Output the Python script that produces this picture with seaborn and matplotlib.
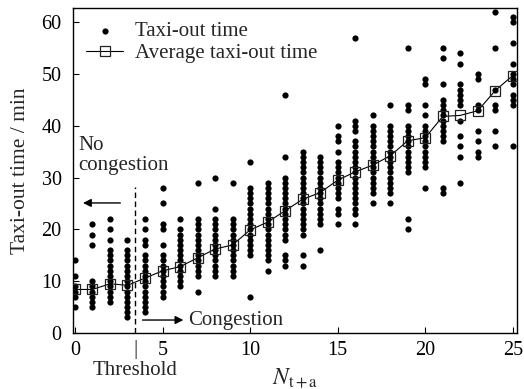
import numpy as np
import pandas as pd
import matplotlib
matplotlib.use("Agg")
import matplotlib.pyplot as plt
import seaborn as sns

# ---- data ----
n_values = list(range(26))
taxi_out_by_n = [
    [14, 11, 9, 8, 7, 5],
    [21, 19, 17, 10, 9, 8, 7, 6, 5],
    [22, 20, 18, 16, 15, 14, 13, 12, 11, 10, 9, 8, 7, 6],
    [18, 16, 15, 14, 13, 12, 11, 10, 9, 8, 7, 6, 5, 4, 3],
    [22, 20, 18, 17, 15, 14, 13, 12, 11, 10, 9, 8, 7, 6, 5, 4],
    [28, 25, 21, 20, 17, 15, 14, 13, 12, 11, 10, 9, 8, 7],
    [22, 20, 19, 18, 17, 16, 15, 14, 13, 12, 11, 10, 9],
    [29, 22, 21, 20, 19, 18, 17, 16, 15, 14, 13, 12, 11, 8],
    [30, 24, 22, 21, 20, 19, 18, 17, 16, 15, 14, 13, 12, 11],
    [29, 22, 21, 20, 19, 18, 17, 16, 15, 14, 13, 12, 11],
    [33, 28, 27, 26, 25, 24, 23, 22, 21, 20, 19, 18, 17, 16, 15, 7],
    [29, 28, 27, 26, 25, 24, 23, 22, 21, 20, 19, 18, 17, 16, 15, 14, 12],
    [46, 34, 30, 29, 28, 27, 26, 25, 24, 23, 22, 21, 20, 19, 18, 15, 14, 13],
    [35, 34, 33, 32, 31, 30, 29, 28, 27, 26, 25, 24, 23, 22, 21, 20, 19, 15, 13],
    [34, 33, 32, 31, 30, 29, 28, 27, 26, 25, 24, 23, 22, 21, 16],
    [40, 38, 37, 35, 33, 32, 31, 30, 29, 28, 27, 26, 24, 23, 21],
    [57, 41, 40, 39, 37, 36, 35, 34, 33, 32, 31, 30, 29, 28, 27, 26, 25, 24, 23, 21],
    [42, 40, 39, 38, 37, 36, 35, 34, 33, 32, 31, 30, 29, 28, 27, 25],
    [44, 40, 39, 38, 37, 36, 35, 34, 33, 32, 31, 30, 29, 28, 27, 25],
    [55, 44, 43, 40, 39, 38, 37, 36, 35, 34, 33, 32, 31, 22, 20],
    [49, 48, 44, 42, 40, 39, 38, 37, 36, 35, 34, 33, 32, 28],
    [55, 53, 48, 45, 44, 43, 42, 41, 40, 39, 38, 37, 28, 27],
    [54, 52, 48, 47, 46, 45, 44, 41, 38, 36, 34, 29],
    [50, 49, 44, 43, 39, 37, 35, 34],
    [62, 55, 47, 44, 43, 39, 36],
    [61, 60, 56, 52, 50, 49, 48, 46, 45, 44, 36],
]
avg_taxi_out = [8.4, 8.4, 9.5, 9.2, 10.6, 12.0, 12.8, 14.5, 16.2, 17.0,
                19.9, 21.4, 23.6, 25.8, 27.1, 29.5, 31.1, 32.4, 34.2, 37.1,
                37.7, 41.8, 42.0, 42.9, 46.8, 49.7]
threshold = 3.45

scatter_df = pd.DataFrame(
    [(n, t) for n, ts in zip(n_values, taxi_out_by_n) for t in ts],
    columns=["n", "time"])
avg_df = pd.DataFrame({"n": n_values, "avg": avg_taxi_out})

# ---- style ----
sns.set_theme(style="ticks")
plt.rcParams["font.family"] = ["Liberation Serif", "DejaVu Serif"]
plt.rcParams["mathtext.fontset"] = "stix"
plt.rcParams["font.size"] = 15

fig = plt.figure(figsize=(5.24, 3.89), dpi=100)
ax = fig.add_axes([0.139, 0.144, 0.848, 0.835])

sns.scatterplot(data=scatter_df, x="n", y="time", ax=ax, color="black",
                s=20, linewidth=0, label="Taxi-out time", zorder=3)
sns.lineplot(data=avg_df, x="n", y="avg", ax=ax, color="black", lw=0.8,
             marker="s", markersize=7, markerfacecolor="none",
             markeredgecolor="#222222", markeredgewidth=0.9,
             label="Average taxi-out time", zorder=4)

ax.set_xlim(-0.12, 25.25)
ax.set_ylim(0, 62.7)
ax.set_xticks([0, 5, 10, 15, 20, 25])
ax.set_yticks([0, 10, 20, 30, 40, 50, 60])
ax.tick_params(direction="in", length=4, width=0.8, labelsize=14.5,
               colors="black")
ax.tick_params(axis="y", pad=8)
ax.tick_params(axis="x", pad=6)
for sp in ax.spines.values():
    sp.set_linewidth(1.0)
    sp.set_color("black")

ax.set_xlabel(r"$N_{\mathrm{t+a}}$", fontsize=17, labelpad=4)
ax.set_ylabel("Taxi-out time / min", fontsize=15.5, labelpad=8)

# threshold line and annotations
ax.plot([threshold, threshold], [0, 28.2], ls=(0, (4, 2.5)), color="black", lw=1.0)
ax.text(0.17, 34.3, "No\ncongestion", ha="left", va="center", fontsize=15,
        linespacing=1.1)
ax.annotate("", xy=(0.3, 25.1), xytext=(2.75, 25.1),
            arrowprops=dict(arrowstyle="-|>", color="black", lw=1.0,
                            mutation_scale=12))
ax.annotate("", xy=(6.35, 2.5), xytext=(3.7, 2.5),
            arrowprops=dict(arrowstyle="-|>", color="black", lw=1.0,
                            mutation_scale=12))
ax.text(6.45, 2.5, "Congestion", ha="left", va="center", fontsize=15)
ax.text(threshold, -3.2, "|", ha="center", va="center", fontsize=15,
        clip_on=False)
ax.text(threshold, -7.3, "Threshold", ha="center", va="center", fontsize=15,
        clip_on=False)

leg = ax.legend(loc="upper left", frameon=False, fontsize=15,
                handlelength=1.75, handletextpad=0.6, borderaxespad=0.5,
                labelspacing=0.1, borderpad=0.15)

fig.savefig("out.png", dpi=100)
